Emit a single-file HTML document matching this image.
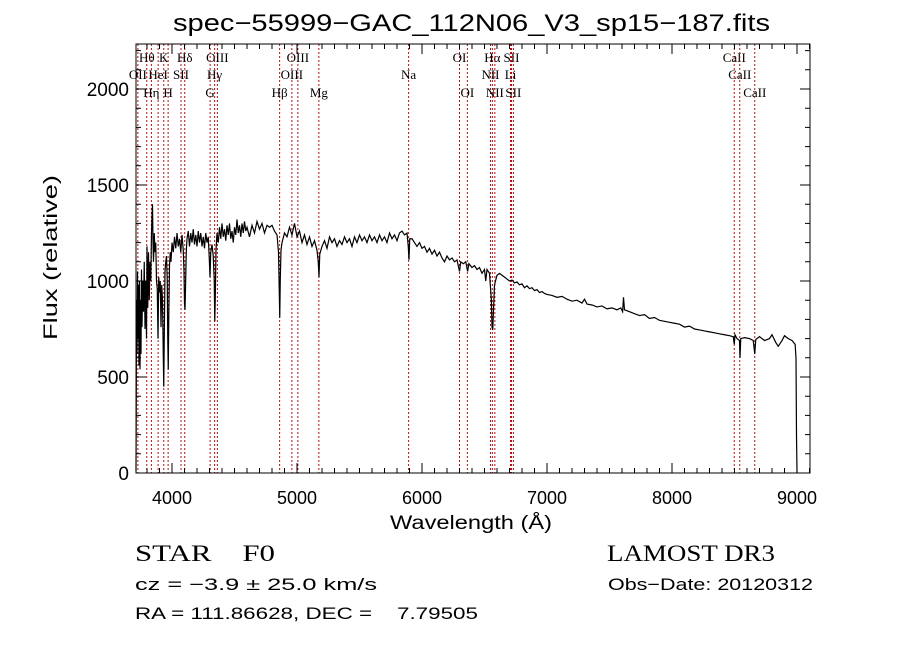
<!DOCTYPE html>
<html><head><meta charset="utf-8"><style>
html,body{margin:0;padding:0;background:#fff;}
svg{display:block;font-family:"Liberation Sans",sans-serif;}
svg text{white-space:pre;}
</style></head><body>
<svg id="chart" width="900" height="649" viewBox="0 0 900 649" xmlns="http://www.w3.org/2000/svg">
<rect x="0" y="0" width="900" height="649" fill="#fff"/>
<text x="173" y="31" font-size="24" textLength="597" lengthAdjust="spacingAndGlyphs">spec−55999−GAC_112N06_V3_sp15−187.fits</text>
<g id="lines"></g>
<g id="spec"></g>
<g id="axes"></g>
<text x="390" y="529" font-size="19" textLength="162" lengthAdjust="spacingAndGlyphs">Wavelength (Å)</text>
<text transform="translate(57,340) rotate(-90)" font-size="19" textLength="165" lengthAdjust="spacingAndGlyphs">Flux (relative)</text>
<text x="135" y="561" font-size="23" font-family="Liberation Serif" textLength="140" lengthAdjust="spacingAndGlyphs">STAR    F0</text>
<text x="607" y="561" font-size="23" font-family="Liberation Serif" textLength="168" lengthAdjust="spacingAndGlyphs">LAMOST DR3</text>
<text x="135" y="590" font-size="17" textLength="242" lengthAdjust="spacingAndGlyphs">cz = −3.9 ± 25.0 km/s</text>
<text x="608" y="590" font-size="17" textLength="205" lengthAdjust="spacingAndGlyphs">Obs−Date: 20120312</text>
<text x="135" y="619" font-size="17" textLength="343" lengthAdjust="spacingAndGlyphs">RA = 111.86628, DEC =    7.79505</text>
</svg>
<script>
const wavelengths=[3712,3714,3716,3720,3724,3728,3732,3736,3740,3744,3748,3752,3756,3760,3766,3772,3778,3784,3790,3796,3800,3806,3812,3818,3824,3830,3836,3840,3844,3848,3852,3858,3864,3870,3876,3882,3888,3894,3900,3906,3912,3918,3924,3930,3934,3938,3944,3950,3956,3962,3966,3970,3974,3980,3986,3992,4000,4010,4020,4030,4040,4050,4060,4070,4080,4090,4096,4100,4104,4108,4114,4120,4130,4140,4150,4160,4170,4180,4190,4200,4210,4220,4230,4240,4250,4260,4270,4280,4290,4298,4304,4310,4320,4330,4338,4342,4346,4352,4360,4370,4380,4390,4400,4410,4420,4430,4440,4450,4460,4470,4480,4490,4500,4510,4520,4530,4540,4550,4560,4570,4580,4590,4600,4620,4640,4660,4680,4700,4720,4740,4760,4780,4800,4820,4840,4852,4858,4862,4866,4872,4880,4900,4920,4940,4960,4980,5000,5020,5040,5060,5080,5100,5120,5140,5160,5170,5176,5182,5200,5220,5240,5260,5280,5300,5320,5340,5360,5380,5400,5420,5440,5460,5480,5500,5520,5540,5560,5580,5600,5620,5640,5660,5680,5700,5720,5740,5760,5780,5800,5820,5840,5860,5880,5890,5896,5902,5920,5940,5960,5980,6000,6020,6040,6060,6080,6100,6120,6140,6160,6180,6200,6220,6240,6260,6280,6300,6310,6330,6350,6365,6375,6400,6420,6440,6460,6480,6500,6510,6520,6540,6555,6560,6566,6572,6580,6600,6620,6640,6660,6680,6700,6720,6740,6760,6780,6800,6820,6840,6860,6880,6900,6920,6940,6960,6980,7000,7040,7080,7120,7160,7200,7240,7280,7300,7320,7360,7400,7440,7480,7520,7560,7590,7605,7612,7620,7660,7700,7740,7780,7820,7860,7900,7940,7980,8020,8060,8100,8140,8180,8220,8260,8300,8340,8380,8420,8460,8490,8498,8504,8520,8540,8544,8550,8580,8620,8650,8662,8670,8700,8740,8780,8800,8830,8850,8880,8900,8930,8960,8985,8992,8996,9000];
const fluxes=[10,350,900,620,1050,700,980,560,1000,540,900,620,1060,760,1000,840,1100,750,1000,700,1180,860,1150,900,1100,1000,1250,1340,1400,1200,1100,1250,1150,1200,1000,960,700,1020,940,1000,760,980,900,620,450,700,1050,1100,1130,1000,700,540,800,1080,1150,1100,1200,1150,1230,1170,1250,1180,1220,1150,1240,1160,1050,880,850,960,1150,1220,1260,1180,1250,1200,1270,1190,1240,1180,1260,1200,1250,1180,1230,1170,1250,1200,1230,1120,1020,1150,1190,1130,1000,790,900,1160,1250,1200,1280,1220,1300,1230,1270,1210,1290,1240,1300,1220,1260,1200,1280,1240,1320,1250,1290,1230,1300,1250,1310,1260,1280,1230,1290,1250,1310,1270,1300,1250,1290,1280,1290,1260,1240,1150,950,810,1000,1160,1200,1250,1230,1280,1240,1300,1230,1260,1200,1240,1190,1230,1180,1210,1160,1100,1020,1140,1180,1210,1170,1230,1200,1220,1180,1210,1190,1230,1200,1220,1180,1230,1200,1240,1210,1230,1200,1240,1210,1230,1200,1240,1210,1230,1200,1250,1220,1240,1210,1250,1260,1240,1250,1180,1110,1220,1220,1200,1180,1200,1170,1180,1150,1170,1140,1160,1130,1150,1120,1100,1130,1110,1120,1100,1110,1050,1100,1090,1100,1050,1090,1070,1080,1060,1070,1040,1060,1000,1060,1040,900,760,745,850,980,1030,1040,1030,1020,1010,1000,1005,990,995,980,985,965,975,960,965,950,955,940,945,935,930,925,915,920,905,895,900,885,905,880,875,865,870,855,860,850,860,840,915,850,840,830,820,825,805,810,795,790,785,780,775,760,765,750,745,740,735,730,725,720,715,710,670,720,700,690,600,700,705,700,690,620,695,710,690,700,720,680,660,690,715,700,690,670,600,200,0];
const lineNames=["Hθ","K","Hδ","OIII","OIII","OI","Hα","SII","CaII","OII","HeI","SII","Hγ","OIII","Na","NII","Li","CaII","Hη","H","G","Hβ","Mg","OI","NII","SII","CaII"];
const lineWaves=[3798,3934,4102,4363,5007,6300,6563,6716,8498,3727,3889,4072,4341,4959,5893,6548,6708,8542,3835,3969,4305,4861,5175,6363,6583,6731,8662];
const lineRows=[0,0,0,0,0,0,0,0,0,1,1,1,1,1,1,1,1,1,2,2,2,2,2,2,2,2,2];
const xTickValues=[4000,5000,6000,7000,8000,9000];
const yTickValues=[0,500,1000,1500,2000];

const NS="http://www.w3.org/2000/svg";
const L=136,R=810,T=44,B=473;
const xs=w=>172+(w-4000)*0.125;
const ys=f=>473-f*0.192;
function mk(tag,attrs,parent){const e=document.createElementNS(NS,tag);for(const k in attrs)e.setAttribute(k,attrs[k]);parent.appendChild(e);return e;}

const lg=document.getElementById('lines');
const rowY=[62,79,97];
lineWaves.forEach((w,i)=>{
  const x=xs(w);
  const ln=mk('line',{x1:x,x2:x,y1:T,y2:B,stroke:'#b01010','stroke-width':1,'stroke-dasharray':'2,2'},lg);
  
  
  const t=mk('text',{x:x,y:rowY[lineRows[i]],'text-anchor':'middle','font-size':13,'font-family':'Liberation Serif'},lg);
  t.textContent=lineNames[i];
  
  
});

const sg=document.getElementById('spec');
let d='';
wavelengths.forEach((w,i)=>{d+=(i?'L':'M')+xs(w).toFixed(2)+','+ys(fluxes[i]).toFixed(2);});
const p=mk('path',{d:d,fill:'none',stroke:'#000','stroke-width':1.2},sg);



const ag=document.getElementById('axes');
const fr=mk('rect',{x:L,y:T,width:R-L,height:B-T,fill:'none',stroke:'#000','stroke-width':1},ag);


let td='';
for(let w=3800;w<=9100;w+=100){const x=xs(w);const len=(w%1000===0)?10:5;td+=`M${x},${B}v${-len}M${x},${T}v${len}`;}
for(let f=0;f<=2200;f+=100){const y=ys(f);const len=(f%500===0)?10:5;td+=`M${L},${y}h${len}M${R},${y}h${-len}`;}
const tk=mk('path',{d:td,stroke:'#000','stroke-width':1,fill:'none'},ag);


xTickValues.forEach(v=>{
  const t=mk('text',{x:xs(v),y:504,'text-anchor':'middle','font-size':18},ag);
  t.textContent=v;
  
  
});
yTickValues.forEach(v=>{
  const t=mk('text',{x:129,y:ys(v)+7,'text-anchor':'end','font-size':19},ag);
  t.textContent=v;
  
  
});
</script>
</body></html>
